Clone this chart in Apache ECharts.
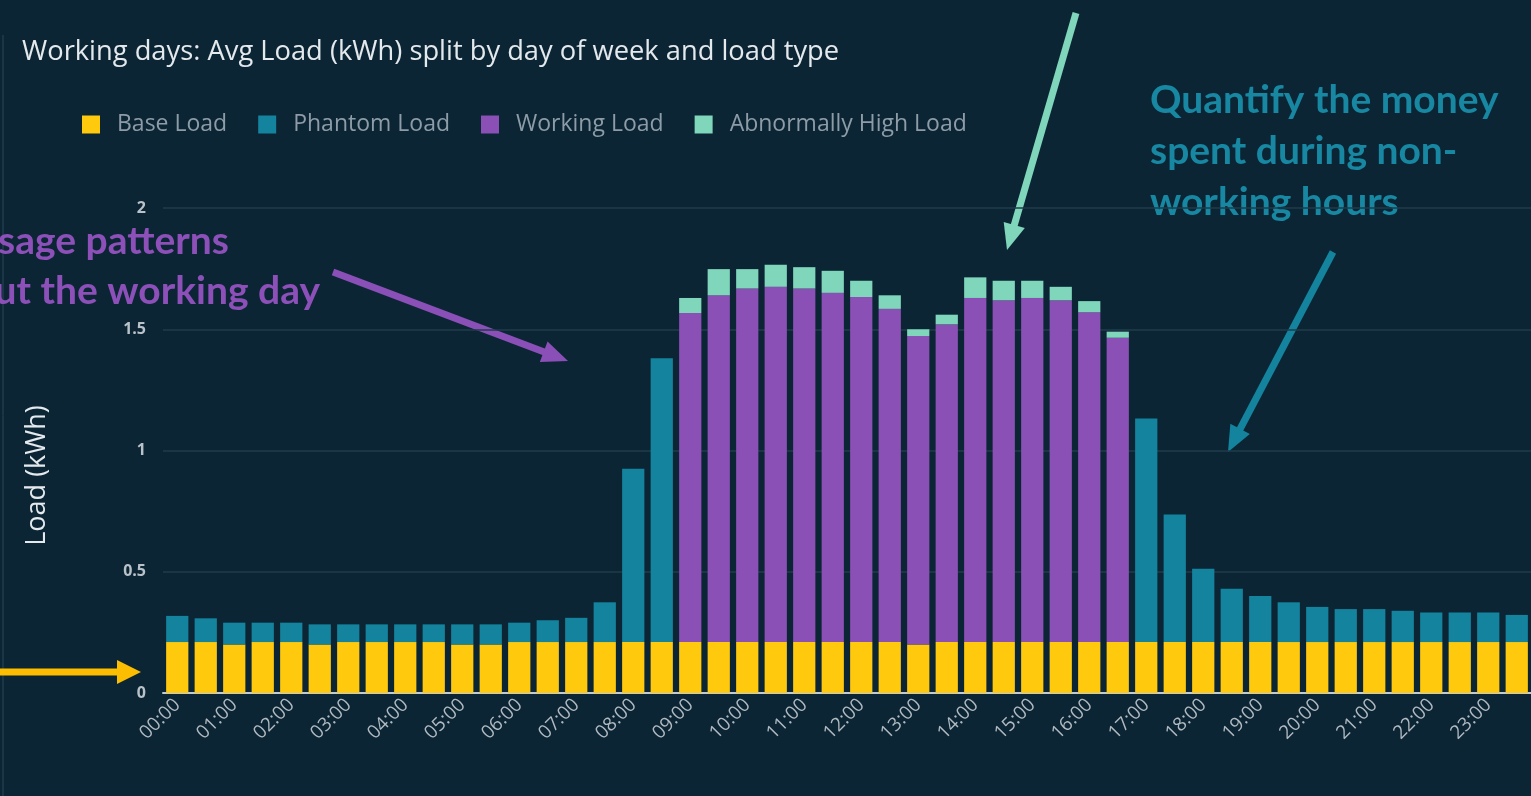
<!DOCTYPE html>
<html>
<head>
<meta charset="utf-8">
<script src="https://cdn.jsdelivr.net/npm/echarts@6/dist/echarts.min.js"></script>
<style>
html,body{margin:0;padding:0;background:#0b2535;}
#chart{width:1531px;height:796px;}
</style>
</head>
<body>
<div id="chart"></div>
<script>
const categories = ["00:00","00:30","01:00","01:30","02:00","02:30","03:00","03:30","04:00","04:30","05:00","05:30",
  "06:00","06:30","07:00","07:30","08:00","08:30","09:00","09:30","10:00","10:30","11:00","11:30",
  "12:00","12:30","13:00","13:30","14:00","14:30","15:00","15:30","16:00","16:30","17:00","17:30",
  "18:00","18:30","19:00","19:30","20:00","20:30","21:00","21:30","22:00","22:30","23:00","23:30"];
const seriesNames = ["Base Load","Phantom Load","Working Load","Abnormally High Load"];
const baseLoad = [0.21,0.21,0.20,0.21,0.21,0.20,0.21,0.21,0.21,0.21,0.20,0.20,
  0.21,0.21,0.21,0.21,0.21,0.21,0.21,0.21,0.21,0.21,0.21,0.21,
  0.21,0.21,0.20,0.21,0.21,0.21,0.21,0.21,0.21,0.21,0.21,0.21,
  0.21,0.21,0.21,0.21,0.21,0.21,0.21,0.21,0.21,0.21,0.21,0.21];
const phantomLoad = [0.108,0.098,0.09,0.08,0.08,0.083,0.073,0.073,0.073,0.073,0.083,0.083,
  0.08,0.09,0.10,0.164,0.715,1.17,0,0,0,0,0,0,
  0,0,0,0,0,0,0,0,0,0,0.922,0.526,
  0.302,0.22,0.19,0.164,0.145,0.136,0.136,0.129,0.122,0.122,0.122,0.112];
const workingLoad = [0,0,0,0,0,0,0,0,0,0,0,0,
  0,0,0,0,0,0,1.357,1.43,1.458,1.465,1.458,1.44,
  1.423,1.374,1.272,1.31,1.419,1.409,1.419,1.409,1.36,1.255,0,0,
  0,0,0,0,0,0,0,0,0,0,0,0];
const abnormalLoad = [0,0,0,0,0,0,0,0,0,0,0,0,
  0,0,0,0,0,0,0.062,0.108,0.08,0.091,0.088,0.091,
  0.067,0.056,0.028,0.04,0.085,0.081,0.071,0.056,0.046,0.025,0,0,
  0,0,0,0,0,0,0,0,0,0,0,0];
const colors = ["#ffc90e","#14849e","#8a50b5","#7fd6bb"];
const titleText = "Working days: Avg Load (kWh) split by day of week and load type";
const yAxisName = "Load (kWh)";

function arrow(x1,y1,x2,y2,color,w,hl,hw){
  const dx=x2-x1, dy=y2-y1, L=Math.sqrt(dx*dx+dy*dy), ux=dx/L, uy=dy/L, px=-uy, py=ux;
  const bx=x2-ux*hl, by=y2-uy*hl;
  return {type:'group',silent:true,children:[
    {type:'line',shape:{x1:x1,y1:y1,x2:bx+ux*2,y2:by+uy*2},style:{stroke:color,lineWidth:w}},
    {type:'polygon',shape:{points:[[x2,y2],[bx+px*hw/2,by+py*hw/2],[bx-px*hw/2,by-py*hw/2]]},style:{fill:color}}
  ]};
}

const FONT = '"Open Sans", "Noto Sans", sans-serif';
const chart = echarts.init(document.getElementById('chart'));
const dataSets=[baseLoad,phantomLoad,workingLoad,abnormalLoad];
chart.setOption({
  backgroundColor:'#0b2535',
  animation:false,
  title:{text:titleText,left:17,top:34,textStyle:{color:'#e3e9ec',fontSize:27.3,fontWeight:'normal',fontFamily:FONT}},
  legend:{left:77,top:108,itemWidth:18,itemHeight:18,itemGap:31,icon:'rect',
    textStyle:{color:'#8d9ca6',fontSize:23,fontFamily:FONT,padding:[0,0,0,12]},data:seriesNames},
  grid:{left:163,right:-9,top:208,bottom:103},
  xAxis:{type:'category',data:categories,
    axisLine:{lineStyle:{color:'#c3cbd0',width:2}},
    axisTick:{length:9,lineStyle:{color:'#aab4ba'},interval:function(i){return i===0||i%2===1;}},
    axisLabel:{interval:1,rotate:45,color:'#b1bac0',fontSize:19,fontFamily:FONT,margin:9}},
  yAxis:{type:'value',min:0,max:2,interval:0.5,name:yAxisName,nameLocation:'middle',nameGap:112,nameRotate:90,
    nameTextStyle:{color:'#e3e9ec',fontSize:27,fontFamily:FONT,padding:[0,50,0,0]},
    axisLine:{show:false},axisTick:{show:false},
    axisLabel:{color:'#b9c2c8',fontSize:16,fontWeight:'bold',fontFamily:FONT,margin:17},
    splitLine:{lineStyle:{color:'#203d4b',width:1.5}}},
  series:dataSets.map(function(d,i){return {name:seriesNames[i],type:'bar',stack:'load',data:d,
    barCategoryGap:'22%',itemStyle:{color:colors[i]}};}),
  graphic:[
    {type:'line',silent:true,shape:{x1:3,y1:35,x2:3,y2:796},style:{stroke:'#2a4656',lineWidth:1}},
    {type:'text',silent:true,style:{text:'Quantify the money\nspent during non-\nworking hours',x:1150,y:75,
      fill:'#1787a2',font:'bold 39px Lato',lineHeight:51}},
    {type:'text',silent:true,style:{text:'sage patterns',x:229,y:241,align:'right',verticalAlign:'middle',
      fill:'#8c50b8',font:'bold 39px Lato'}},
    {type:'text',silent:true,style:{text:'ut the working day',x:320,y:291,align:'right',verticalAlign:'middle',
      fill:'#8c50b8',font:'bold 39px Lato'}},
    arrow(-5,672,141,672,'#fdbd00',7,24,24),
    arrow(1076,13,1007,250,'#7fd6bb',7,26,22),
    arrow(333,272,568,361,'#8a50b7',7,26,22),
    arrow(1333,252,1228,452,'#14849e',7,26,22)
  ]
});
</script>
</body>
</html>
